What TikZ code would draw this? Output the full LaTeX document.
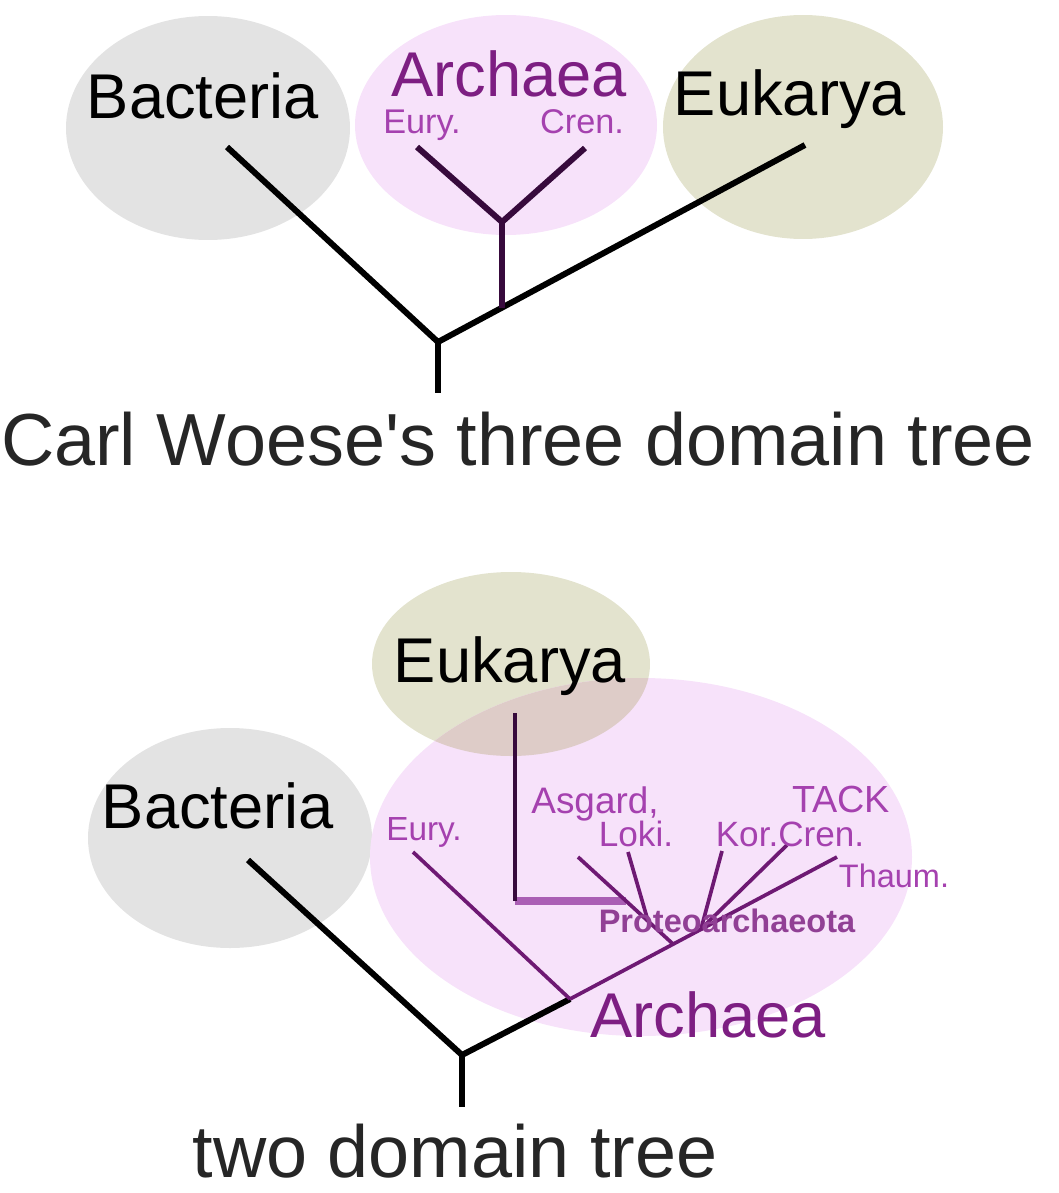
\documentclass[tikz,border=0pt]{standalone}
\usepackage{fontspec}
\setmainfont{Liberation Sans}[Ligatures=TeXOff]
\begin{document}
\begin{tikzpicture}[x=0.02cm,y=-0.02cm]
\definecolor{bacfill}{RGB}{227,227,227}
\definecolor{arcfill}{RGB}{247,226,250}
\definecolor{eukfill}{RGB}{227,227,206}
\definecolor{mixfill}{RGB}{222,204,200}
\definecolor{arcdark}{RGB}{55,10,60}
\definecolor{arcline}{RGB}{110,25,115}
\definecolor{arcthick}{RGB}{170,95,180}
\definecolor{arctext}{RGB}{125,30,130}
\definecolor{arcsmall}{RGB}{165,65,175}
\tikzset{branch/.style={line width=3.4pt,line join=miter},
         subbranch/.style={line width=2.1pt,arcline},
         lbl/.style={anchor=base,inner sep=0pt,text depth=0pt},
         big/.style={lbl,font=\fontsize{36}{40}\selectfont},
         caption/.style={lbl,font=\fontsize{42}{46}\selectfont,text=black!85},
         small/.style={lbl,font=\fontsize{19.5}{22}\selectfont,text=arcsmall}}
\useasboundingbox (0,0) rectangle (1058,1193);

% three domain tree
\fill[bacfill] (208,128) ellipse [x radius=142, y radius=112];
\fill[arcfill] (506,125) ellipse [x radius=151, y radius=110];
\fill[eukfill] (803,127) ellipse [x radius=140, y radius=112];

\node[big] (tbac) at (203,118) {Bacteria};
\node[big,text=arctext] (tarc) at (509,96) {Archaea};
\node[big] (teuk) at (790,115) {Eukarya};
\node[small] (teury) at (422,133) {Eury.};
\node[small] (tcren) at (582,133) {Cren.};

\coordinate (troot) at (438,393);
\coordinate (tj) at (438,342);
\coordinate (tbacTip) at (227,147);
\coordinate (teukTip) at (805,145);
\coordinate (taj) at (502,308);
\coordinate (tac) at (502,222);
\coordinate (teuryTip) at (417,147);
\coordinate (tcrenTip) at (585,148);

\draw[branch] (tbacTip) -- (tj) -- (teukTip);
\draw[branch] (tj) -- (troot);
\draw[branch,arcdark] (taj) -- (tac);
\draw[branch,arcdark] (teuryTip) -- (tac) -- (tcrenTip);

\node[caption] (tcap) at (518,465) {Carl Woese's three domain tree};

% two domain tree
\fill[bacfill] (230,838) ellipse [x radius=142, y radius=110];
\fill[eukfill] (511,664) ellipse [x radius=139, y radius=92];
\fill[arcfill] (641,857) ellipse [x radius=271, y radius=179];
\begin{scope}
  \clip (641,857) ellipse [x radius=271, y radius=179];
  \fill[mixfill] (511,664) ellipse [x radius=139, y radius=92];
\end{scope}

\coordinate (broot) at (462,1107);
\coordinate (bj) at (462,1055);
\coordinate (bbacTip) at (248,860);
\coordinate (baj) at (570,999);
\coordinate (beuryTip) at (413,852);
\coordinate (bthaumTip) at (837,857);
\coordinate (bprot) at (701,929);
\coordinate (basgBase) at (673,944);
\coordinate (basgTip) at (578,857);
\coordinate (blokiBase) at (648,921);
\coordinate (blokiTip) at (628,852);
\coordinate (bkorTip) at (722,851);
\coordinate (bcrenTip) at (787,845);
\coordinate (beukJoin) at (626,901);
\coordinate (beukCorner) at (515,901);
\coordinate (beukTip) at (515,713);

\draw[line width=4.4pt,arcthick] (beukCorner) -- (beukJoin);
\draw[subbranch,arcdark] (beukTip) -- (beukCorner);
\draw[branch] (bbacTip) -- (bj) -- (baj);
\draw[branch] (bj) -- (broot);
\draw[subbranch] (baj) -- (bthaumTip);
\draw[subbranch] (beuryTip) -- (baj);
\draw[subbranch] (basgTip) -- (basgBase);
\draw[subbranch] (blokiTip) -- (blokiBase);
\draw[subbranch] (bkorTip) -- (bprot);
\draw[subbranch] (bcrenTip) -- (bprot);

\node[big] (beuk) at (510,682) {Eukarya};
\node[big] (bbac) at (218,828) {Bacteria};
\node[big,text=arctext] (barc) at (708,1037) {Archaea};
\node[small,font=\fontsize{19}{22}\selectfont] (beury) at (424,840) {Eury.};
\node[small,font=\fontsize{21}{24}\selectfont] (basg) at (595,813) {Asgard,};
\node[small,font=\fontsize{20}{24}\selectfont] (bloki) at (636,846) {Loki.};
\node[small,font=\fontsize{21.5}{24}\selectfont] (btack) at (841,812) {TACK};
\node[small,font=\fontsize{20}{24}\selectfont] (bkor) at (790,846) {Kor.Cren.};
\node[small,font=\fontsize{18.5}{22}\selectfont] (bthaum) at (894,887) {Thaum.};
\node[small,font=\bfseries\fontsize{18.5}{22}\selectfont,text=arctext!85] (bprotl) at (727,932) {Proteoarchaeota};

\node[caption] (bcap) at (455,1177) {two domain tree};
\end{tikzpicture}
\end{document}
